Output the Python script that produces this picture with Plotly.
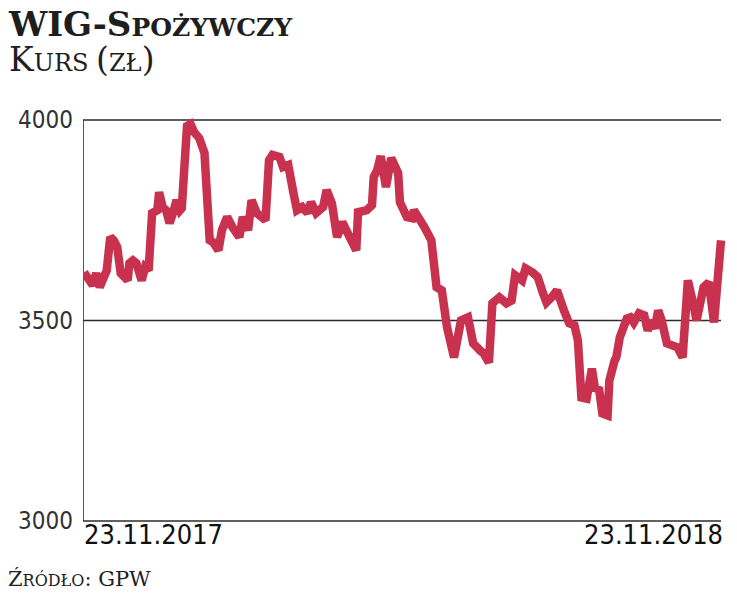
import pandas as pd
import plotly.graph_objects as go

# ---- data ----
start_date = "2017-11-23"
day_offsets = [0, 3, 5, 7, 9, 13, 15, 17, 19, 21, 25, 26, 28, 30, 33, 35, 37, 39, 42, 43,
               45, 47, 49, 51, 53, 55, 56, 59, 61, 63, 66, 69, 72, 74, 77, 79, 82, 85, 88, 89,
               91, 94, 96, 99, 104, 106, 108, 112, 114, 117, 120, 122, 125, 128, 130, 133, 137, 139, 142, 145,
               148, 152, 156, 157, 162, 165, 166, 168, 170, 173, 176, 180, 181, 185, 188, 189, 192, 195, 199, 202,
               205, 208, 212, 216, 220, 223, 227, 229, 232, 234, 238, 242, 245, 247, 251, 253, 257, 260, 263, 265,
               268, 271, 275, 278, 281, 283, 285, 288, 291, 293, 295, 297, 300, 301, 304, 305, 307, 308, 311, 313,
               315, 318, 321, 323, 325, 327, 329, 331, 334, 337, 340, 343, 346, 349, 351, 355, 358, 361, 365]
values = [3620, 3605, 3588, 3618, 3583, 3625, 3708, 3700, 3683, 3618, 3600, 3643, 3650, 3643, 3600, 3633, 3625, 3768, 3775, 3820,
          3783, 3775, 3743, 3768, 3800, 3775, 3780, 3985, 3990, 3970, 3955, 3918, 3700, 3695, 3675, 3725, 3758, 3733, 3718, 3708,
          3758, 3725, 3800, 3768, 3750, 3900, 3913, 3908, 3883, 3888, 3818, 3775, 3783, 3768, 3795, 3768, 3783, 3825, 3793, 3708,
          3745, 3708, 3675, 3770, 3775, 3788, 3858, 3875, 3910, 3833, 3905, 3868, 3795, 3758, 3755, 3775, 3758, 3733, 3700, 3583,
          3575, 3483, 3408, 3500, 3508, 3443, 3425, 3418, 3395, 3543, 3558, 3543, 3550, 3613, 3600, 3630, 3620, 3608, 3568, 3545,
          3558, 3575, 3525, 3493, 3488, 3450, 3308, 3305, 3380, 3325, 3333, 3268, 3263, 3350, 3400, 3408, 3458, 3475, 3505, 3508,
          3495, 3518, 3513, 3475, 3500, 3480, 3525, 3500, 3443, 3438, 3433, 3408, 3600, 3543, 3500, 3583, 3595, 3495, 3700]
y_ticks = [3000, 3500, 4000]
x_tick_labels = ["23.11.2017", "23.11.2018"]
x_tick_dates = ["2017-11-23", "2018-11-23"]

dates = pd.Timestamp(start_date) + pd.to_timedelta(day_offsets, unit="D")

LINE = "#C8324F"
AX = "#2b2b2b"
TXT = "#1e1e1e"
SERIF = "DejaVu Serif"
COND = "Liberation Sans Narrow, DejaVu Sans Condensed, Liberation Sans, sans-serif"

# page geometry (body margin removed in the page, so figure = page)
PL, PR, PT, PB = 83, 728, 112, 529   # plot area in page pixels
PW, PH = PR - PL, PB - PT


def px(xp):
    return (xp - PL) / PW


def py(yp):
    return (PB - yp) / PH


fig = go.Figure()
fig.add_trace(go.Scatter(x=dates, y=values, mode="lines",
                         line=dict(color=LINE, width=8.5, shape="linear"),
                         hoverinfo="skip", showlegend=False))

x0 = pd.Timestamp(x_tick_dates[0])
x1 = pd.Timestamp(x_tick_dates[1])
xl = x0 - pd.Timedelta(days=0.6)

for yv in y_ticks:
    fig.add_shape(type="line", xref="x", yref="y", x0=xl, x1=x1, y0=yv, y1=yv,
                  line=dict(color=AX, width=1.6), layer="below")
fig.add_shape(type="line", xref="x", yref="y", x0=xl, x1=xl,
              y0=y_ticks[0], y1=y_ticks[-1], line=dict(color=AX, width=1.6), layer="below")

for lab, d, anc in zip(x_tick_labels, x_tick_dates, ["left", "right"]):
    fig.add_annotation(x=pd.Timestamp(d) + (pd.Timedelta(days=0) if anc == "left" else pd.Timedelta(days=1)),
                       y=y_ticks[0], xref="x", yref="y", text=lab, showarrow=False,
                       xanchor=anc, yanchor="top", yshift=4, xshift=-2 if anc == "left" else 2,
                       font=dict(family=COND, size=27, color="#111111"))

fig.update_layout(
    width=737, height=593,
    margin=dict(l=PL, r=737 - PR, t=PT, b=593 - PB),
    paper_bgcolor="white", plot_bgcolor="white",
    hovermode=False,
    xaxis=dict(range=[xl, x1 + pd.Timedelta(days=4)],
               showgrid=False, zeroline=False, showline=False, showticklabels=False, ticks=""),
    yaxis=dict(range=[2980, 4020], tickvals=y_ticks, ticktext=[str(v) for v in y_ticks],
               showgrid=False, zeroline=False, showline=False, ticks="",
               ticklabelstandoff=9,
               tickfont=dict(family=COND, size=24, color="#333333")),
)


def sc(parts):
    return "".join(f"<span style='font-size:{s}px'>{t}</span>" for t, s in parts)


title = "<b>" + sc([("WIG-S", 34), ("POŻYWCZY", 25)]) + "</b>"
sub = sc([("K", 33), ("URS ", 24), ("(", 33), ("ZŁ", 24), (")", 33)])
fig.add_annotation(xref="paper", yref="paper", x=px(6), y=py(2), xanchor="left", yanchor="top",
                   text=title + "<br>" + sub, showarrow=False, align="left",
                   font=dict(family=SERIF, size=27, color=TXT))
src = sc([("Ź", 21), ("RÓDŁO", 16), (": GPW", 21)])
fig.add_annotation(xref="paper", yref="paper", x=px(6), y=py(593), xanchor="left", yanchor="bottom",
                   text=src, showarrow=False, font=dict(family=SERIF, size=21, color=TXT))

fig.write_html("out.html", config={"displayModeBar": False},
               post_script="document.body.style.margin='0px';")
